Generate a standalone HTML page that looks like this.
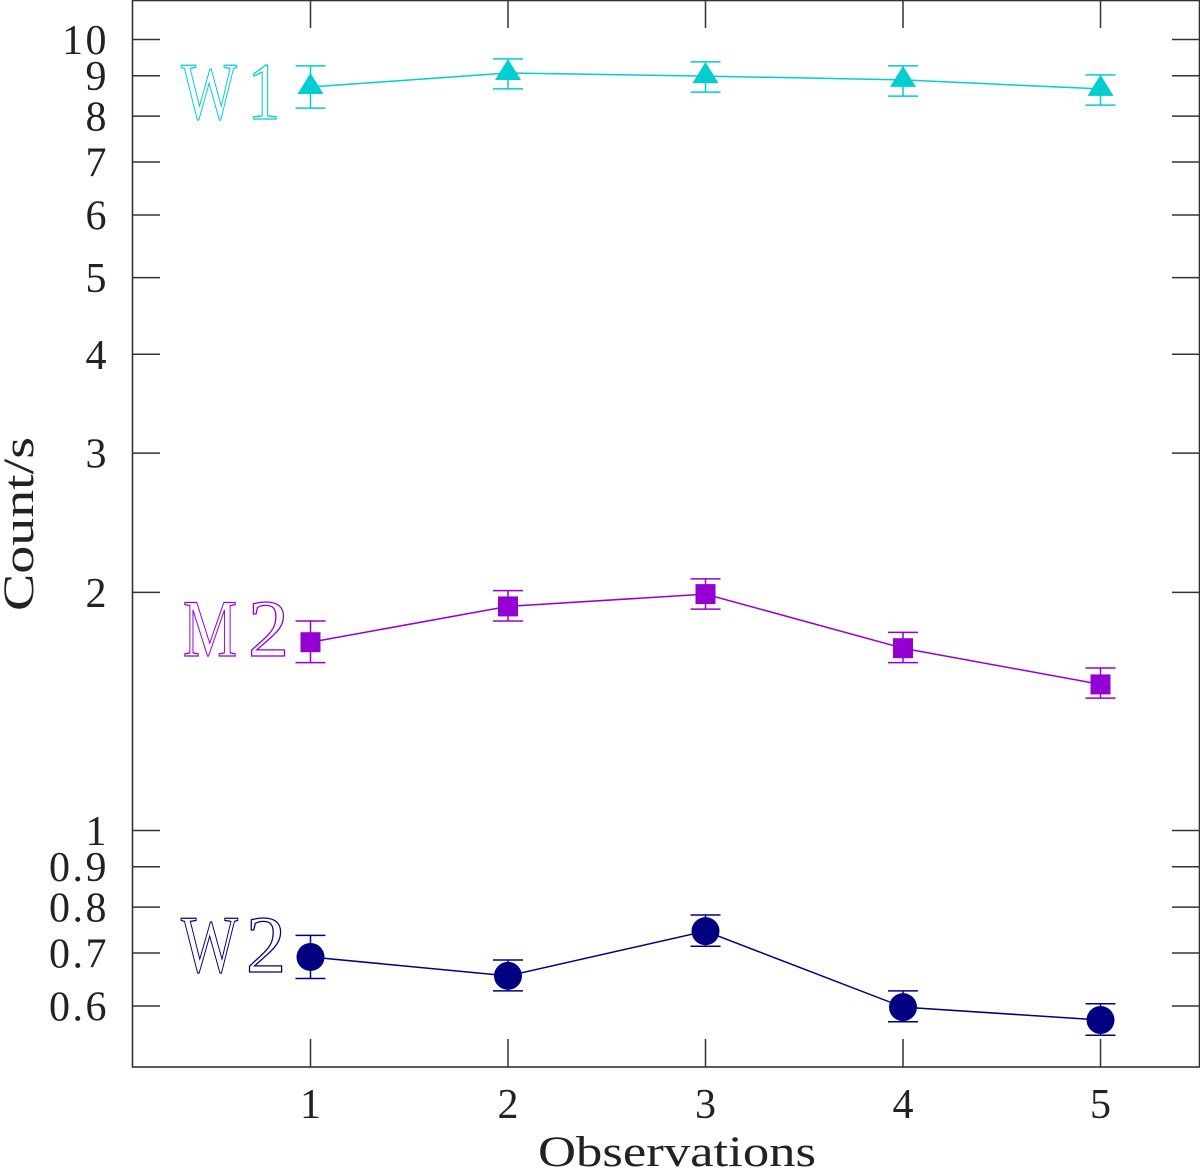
<!DOCTYPE html>
<html lang="en">
<head>
<meta charset="utf-8">
<title>Count/s by observation</title>
<style>
  html, body { margin: 0; padding: 0; background: #fff; }
  svg { display: block; }
  text { font-family: "Liberation Serif", serif; }
</style>
</head>
<body>
<svg id="chart" xmlns="http://www.w3.org/2000/svg" width="1200" height="1168" viewBox="0 0 1200 1168">
  <rect x="0" y="0" width="1200" height="1168" fill="#fff"/>
  <g id="ticks"></g>
  <g id="series"></g>
  <rect x="132.5" y="0.5" width="1067" height="1066.5" fill="none" stroke="#333" stroke-width="1.6"/>
  <text x="538" y="1166" font-size="43" fill="#222" textLength="278" lengthAdjust="spacingAndGlyphs">Observations</text>
  <text transform="translate(33,611) rotate(-90)" font-size="43" fill="#222" textLength="174" lengthAdjust="spacingAndGlyphs">Count/s</text>
  <g fill="none" stroke="#00CED1" stroke-width="1.3" font-size="82">
    <text x="181" y="119" textLength="56" lengthAdjust="spacingAndGlyphs">W</text>
    <text x="248" y="119" textLength="32" lengthAdjust="spacingAndGlyphs">1</text>
  </g>
  <g fill="none" stroke="#9400D3" stroke-width="1.3" font-size="82">
    <text x="183" y="656" textLength="54" lengthAdjust="spacingAndGlyphs">M</text>
    <text x="248" y="656" textLength="41" lengthAdjust="spacingAndGlyphs">2</text>
  </g>
  <g fill="none" stroke="#000080" stroke-width="1.3" font-size="82">
    <text x="181" y="972" textLength="57" lengthAdjust="spacingAndGlyphs">W</text>
    <text x="246" y="972" textLength="40" lengthAdjust="spacingAndGlyphs">2</text>
  </g>
</svg>
<script>
var observations = [1, 2, 3, 4, 5];
var yTickValues = [10, 9, 8, 7, 6, 5, 4, 3, 2, 1, 0.9, 0.8, 0.7, 0.6];
var yTickLabels = ["10", "9", "8", "7", "6", "5", "4", "3", "2", "1", "0.9", "0.8", "0.7", "0.6"];
var xTickLabels = ["1", "2", "3", "4", "5"];

var w1Values = [8.71, 9.07, 8.99, 8.89, 8.66];
var w1Upper = [9.26, 9.45, 9.37, 9.26, 9.02];
var w1Lower = [8.19, 8.66, 8.58, 8.48, 8.26];

var m2Values = [1.73, 1.92, 1.99, 1.70, 1.53];
var m2Upper = [1.84, 2.01, 2.08, 1.78, 1.605];
var m2Lower = [1.63, 1.84, 1.905, 1.63, 1.47];

var w2Values = [0.692, 0.655, 0.746, 0.598, 0.576];
var w2Upper = [0.737, 0.686, 0.782, 0.627, 0.604];
var w2Lower = [0.650, 0.627, 0.714, 0.573, 0.551];

function xScale(v) { return 310.5 + (v - 1) * 197.5; }
function yScale(v) { return 830.5 - 791 * Math.log10(v); }

var NS = "http://www.w3.org/2000/svg";
function make(tag, parent, attrs) {
  var el = document.createElementNS(NS, tag);
  for (var k in attrs) { el.setAttribute(k, attrs[k]); }
  parent.appendChild(el);
  return el;
}

var tickGroup = document.getElementById("ticks");
var tickColor = "#333";

yTickValues.forEach(function (v, i) {
  var y = yScale(v);
  var left = make("line", tickGroup, { x1: 132, x2: 160, y1: y, y2: y, stroke: tickColor, "stroke-width": 1.5 });
  
  
  var right = make("line", tickGroup, { x1: 1172, x2: 1200, y1: y, y2: y, stroke: tickColor, "stroke-width": 1.5 });
  
  
  var label = make("text", tickGroup, { x: 109, y: y + 14.5, "text-anchor": "end", "font-size": 42, "letter-spacing": 2.5, fill: "#222" });
  label.textContent = yTickLabels[i];
  
  
});

observations.forEach(function (v, i) {
  var x = xScale(observations[i]);
  var top = make("line", tickGroup, { x1: x, x2: x, y1: 0, y2: 28, stroke: tickColor, "stroke-width": 1.5 });
  
  
  var bottom = make("line", tickGroup, { x1: x, x2: x, y1: 1039, y2: 1067, stroke: tickColor, "stroke-width": 1.5 });
  
  
  var label = make("text", tickGroup, { x: x, y: 1118, "text-anchor": "middle", "font-size": 42, fill: "#222" });
  label.textContent = xTickLabels[i];
  
  
});

function drawSeries(key, color, shape, values, upper, lower) {
  var group = make("g", document.getElementById("series"), {});
  
  

  var pts = values.map(function (v, i) { return xScale(observations[i]) + "," + yScale(v); }).join(" ");
  var line = make("polyline", group, { points: pts, fill: "none", stroke: color, "stroke-width": 1.5 });
  
  

  values.forEach(function (v, i) {
    var x = xScale(observations[i]);
    var y = yScale(v);
    var yHi = yScale(upper[i]);
    var yLo = yScale(lower[i]);

    var err = make("path", group, {
      d: "M" + x + " " + yHi + "V" + yLo +
         "M" + (x - 15) + " " + yHi + "H" + (x + 15) +
         "M" + (x - 15) + " " + yLo + "H" + (x + 15),
      fill: "none", stroke: color, "stroke-width": 1.5
    });
    
    

    var mark;
    if (shape === "triangle") {
      mark = make("path", group, { d: "M" + x + " " + (y - 14) + "L" + (x + 13) + " " + (y + 7) + "H" + (x - 13) + "Z", fill: color });
    } else if (shape === "square") {
      mark = make("rect", group, { x: x - 10, y: y - 10, width: 20, height: 20, fill: color });
    } else {
      mark = make("circle", group, { cx: x, cy: y, r: 14, fill: color });
    }
    
    
  });
}

drawSeries("w1", "#00CED1", "triangle", w1Values, w1Upper, w1Lower);
drawSeries("m2", "#9400D3", "square", m2Values, m2Upper, m2Lower);
drawSeries("w2", "#000080", "circle", w2Values, w2Upper, w2Lower);
</script>
</body>
</html>
